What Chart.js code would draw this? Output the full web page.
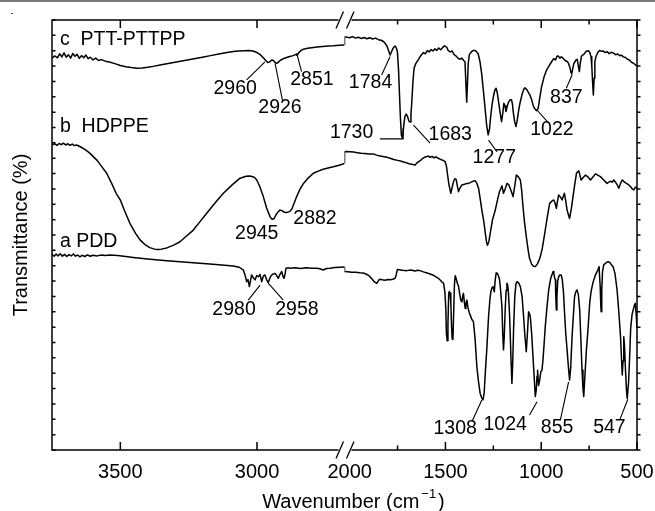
<!DOCTYPE html>
<html><head><meta charset="utf-8">
<script src="https://cdn.jsdelivr.net/npm/chart.js@4.4.1/dist/chart.umd.min.js"></script>
<style>html,body{margin:0;padding:0;background:#fff;}canvas{display:block;}</style>
</head><body>
<canvas id="c" width="655" height="511"></canvas>
<script>
// ---------- DATA: [wavenumber (cm-1), transmittance (offset, a.u.)] ----------
const pttLeft = [[3750,127.6],[3740,128.3],[3730,127.7],[3722,129.0],[3714,128.0],[3706,129.3],[3698,127.9],[3690,128.7],[3682,127.6],[3674,129.1],[3666,128.2],[3658,128.8],[3650,127.5],[3642,128.4],[3634,127.7],[3626,128.6],[3618,127.4],[3610,127.9],[3600,127.0],[3590,127.6],[3580,126.8],[3570,127.1],[3555,126.6],[3540,126.3],[3520,125.8],[3500,125.2],[3480,124.8],[3460,124.5],[3440,124.3],[3420,124.4],[3400,124.6],[3380,124.9],[3350,125.4],[3320,125.9],[3290,126.4],[3260,126.9],[3230,127.4],[3200,127.9],[3170,128.4],[3140,128.9],[3110,129.4],[3080,129.8],[3050,130.0],[3030,130.1],[3015,129.9],[3000,129.4],[2988,128.7],[2976,127.6],[2968,126.8],[2960,126.1],[2953,126.4],[2946,127.0],[2940,126.8],[2934,126.2],[2928,125.9],[2922,126.3],[2914,126.9],[2904,127.4],[2892,127.8],[2880,128.1],[2868,128.4],[2858,128.8],[2853,128.5],[2848,129.3],[2840,130.0],[2830,130.5],[2815,130.8],[2800,131.0],[2780,131.2],[2760,131.4],[2740,131.5],[2720,131.6],[2700,131.8],[2680,131.9]];
const pttRight = [[2027,131.9],[2027,134.5],[2020,134.5],[2000,134.2],[1985,134.6],[1970,134.1],[1955,134.4],[1940,134.0],[1925,134.3],[1910,133.9],[1895,134.2],[1880,133.8],[1865,134.1],[1850,133.6],[1835,133.4],[1824,133.0],[1815,132.4],[1806,131.6],[1798,130.2],[1789,128.6],[1782,129.6],[1775,130.6],[1768,131.3],[1762,131.5],[1756,130.8],[1751,129.7],[1745,124.0],[1740,116.0],[1735,108.0],[1730,102.5],[1724,101.5],[1718,105.5],[1712,108.5],[1705,109.4],[1698,108.6],[1690,107.0],[1685,106.8],[1680,109.5],[1676,113.0],[1670,119.5],[1664,124.3],[1655,125.8],[1642,127.0],[1630,128.3],[1615,129.4],[1605,129.0],[1595,130.0],[1585,129.6],[1575,130.4],[1565,129.9],[1555,130.6],[1545,130.1],[1535,130.9],[1525,130.3],[1515,131.0],[1505,131.6],[1494,131.2],[1485,130.0],[1475,129.6],[1465,129.9],[1455,128.7],[1445,128.3],[1435,127.6],[1425,127.2],[1415,127.6],[1405,126.8],[1398,126.4],[1393,119.0],[1389,113.2],[1385,119.5],[1381,125.9],[1375,128.8],[1365,129.6],[1355,130.1],[1346,130.1],[1338,129.7],[1329,129.0],[1320,126.5],[1311,122.6],[1302,117.0],[1294,111.8],[1285,105.8],[1277,102.6],[1270,104.5],[1264,108.5],[1257,112.3],[1250,115.0],[1242,117.2],[1236,117.8],[1230,116.5],[1224,114.0],[1215,110.0],[1207,106.9],[1201,109.5],[1195,112.9],[1189,112.0],[1184,110.2],[1178,111.8],[1172,113.1],[1163,114.0],[1155,114.0],[1150,112.5],[1146,110.0],[1139,107.0],[1132,105.3],[1125,107.5],[1118,110.5],[1111,112.9],[1100,115.8],[1090,117.6],[1085,117.9],[1075,117.3],[1065,116.2],[1059,115.6],[1050,114.0],[1040,111.8],[1031,110.9],[1024,110.5],[1016,111.2],[1008,114.5],[998,118.3],[985,121.5],[972,123.7],[960,125.0],[946,126.4],[935,127.4],[925,127.0],[918,128.2],[911,128.3],[903,127.6],[895,128.0],[885,127.5],[875,126.8],[865,126.5],[859,126.1],[850,124.5],[845,123.0],[841,122.4],[836,124.0],[830,125.8],[824,126.4],[818,127.0],[812,127.2],[806,125.0],[801,123.2],[796,126.0],[790,128.2],[784,128.6],[775,129.0],[765,129.8],[754,130.0],[746,129.4],[740,128.0],[736,125.0],[732,120.0],[728,115.6],[724,121.0],[720,126.5],[714,128.1],[705,129.4],[695,130.1],[686,129.8],[676,129.9],[665,129.4],[655,129.7],[645,129.0],[635,129.5],[623,129.2],[612,128.7],[600,128.9],[590,128.4],[580,128.5],[571,128.0],[560,127.8],[550,127.2],[540,127.0],[530,126.3],[520,126.0],[510,125.5],[500,125.0]];

const hdpLeft = [[3750,99.3],[3740,99.7],[3732,99.2],[3724,99.8],[3716,99.4],[3708,99.9],[3700,99.3],[3692,99.7],[3684,99.2],[3676,99.6],[3668,99.1],[3660,99.3],[3650,98.9],[3640,98.4],[3630,97.9],[3620,97.2],[3610,96.5],[3600,95.6],[3585,94.3],[3570,92.5],[3550,90.1],[3530,86.5],[3515,83.5],[3500,81.4],[3485,78.0],[3465,73.8],[3445,70.6],[3428,68.4],[3410,66.9],[3392,65.9],[3375,65.4],[3367,65.3],[3350,65.4],[3330,65.8],[3305,66.7],[3282,67.8],[3260,69.5],[3233,71.6],[3210,74.2],[3184,77.1],[3150,80.8],[3123,83.6],[3090,86.4],[3062,88.5],[3040,89.1],[3026,89.2],[3010,88.8],[3001,87.9],[2990,85.8],[2977,82.5],[2965,78.8],[2952,75.9],[2945,75.1],[2938,75.3],[2930,76.7],[2922,77.6],[2916,78.1],[2910,78.0],[2900,77.4],[2891,77.3],[2882,77.6],[2873,78.4],[2864,80.4],[2855,82.5],[2843,84.9],[2830,86.8],[2812,88.6],[2794,90.1],[2776,90.8],[2758,91.4],[2740,91.8],[2721,92.2],[2700,92.7],[2680,93.3]];
const hdpRight = [[2027,93.3],[2027,97.1],[2015,97.2],[1998,97.1],[1980,97.0],[1960,96.8],[1940,96.6],[1920,96.5],[1900,96.4],[1877,96.4],[1860,96.0],[1840,95.7],[1820,95.5],[1800,95.2],[1789,95.0],[1770,94.6],[1750,94.3],[1730,94.0],[1715,93.7],[1702,93.5],[1690,93.2],[1675,93.0],[1665,92.9],[1658,92.8],[1650,93.4],[1640,93.9],[1631,94.2],[1620,94.9],[1610,95.3],[1600,95.5],[1589,95.7],[1580,95.3],[1570,95.6],[1560,95.1],[1552,95.4],[1545,95.3],[1535,94.9],[1525,94.6],[1512,94.3],[1502,93.9],[1495,92.5],[1490,90.1],[1482,86.5],[1472,83.6],[1465,85.5],[1458,87.4],[1451,88.3],[1444,88.1],[1438,86.0],[1432,84.1],[1425,85.2],[1414,86.3],[1400,86.5],[1390,86.8],[1380,86.8],[1365,87.2],[1352,87.6],[1345,87.7],[1336,86.8],[1327,85.2],[1318,81.5],[1310,78.1],[1300,74.5],[1292,70.6],[1285,67.5],[1280,66.7],[1273,68.0],[1266,70.6],[1255,74.8],[1240,78.1],[1228,81.5],[1218,84.1],[1205,86.0],[1197,83.6],[1188,85.0],[1179,86.8],[1170,86.4],[1162,85.2],[1155,84.0],[1147,82.5],[1138,86.0],[1130,89.5],[1120,89.0],[1109,87.9],[1102,84.5],[1095,79.2],[1087,74.0],[1078,69.5],[1068,65.0],[1061,62.4],[1050,60.5],[1040,59.8],[1031,59.7],[1020,60.6],[1010,62.0],[1005,62.9],[995,65.5],[987,68.5],[979,71.6],[968,76.0],[956,80.3],[945,81.0],[935,81.4],[928,80.5],[921,78.7],[915,81.0],[909,83.0],[900,82.4],[891,81.4],[885,82.5],[879,83.6],[872,81.0],[865,78.1],[858,76.6],[852,75.4],[843,78.5],[834,82.5],[825,86.5],[816,90.1],[810,90.6],[804,90.9],[798,89.5],[792,87.9],[780,88.8],[769,89.5],[756,88.9],[743,87.9],[730,88.9],[717,89.9],[705,89.5],[691,89.0],[675,88.0],[656,86.8],[640,87.5],[630,87.2],[621,87.9],[610,87.0],[603,86.3],[595,85.2],[586,86.8],[577,87.9],[565,87.2],[555,86.8],[543,86.3],[533,85.7],[525,85.0],[517,84.7],[508,85.6],[499,85.2]];

const pddLeft = [[3750,63.6],[3742,63.1],[3735,63.8],[3728,63.2],[3720,63.9],[3712,63.1],[3704,63.7],[3696,63.0],[3688,63.6],[3680,63.2],[3672,63.8],[3664,63.1],[3656,63.5],[3648,62.9],[3640,63.4],[3630,63.0],[3620,63.5],[3610,63.1],[3600,63.4],[3585,63.2],[3570,63.5],[3555,63.3],[3540,63.5],[3525,63.4],[3510,63.3],[3480,63.0],[3453,62.7],[3400,62.2],[3330,61.6],[3270,61.2],[3209,60.8],[3150,60.4],[3087,59.9],[3065,59.5],[3050,58.6],[3044,57.0],[3038,54.8],[3033,55.5],[3028,53.2],[3024,55.0],[3020,57.0],[3013,56.0],[3007,55.4],[3001,56.8],[2995,56.4],[2989,57.2],[2983,54.8],[2977,56.6],[2971,57.0],[2965,55.5],[2959,54.5],[2952,56.2],[2946,57.0],[2940,57.3],[2934,57.5],[2928,56.8],[2922,55.9],[2916,57.2],[2910,58.1],[2905,56.5],[2901,55.9],[2897,57.5],[2894,59.2],[2885,59.3],[2879,59.2],[2860,59.3],[2840,59.1],[2820,59.3],[2800,59.2],[2782,59.2],[2770,59.0],[2758,58.6],[2746,59.1],[2733,59.2],[2715,59.4],[2697,59.5],[2680,59.6]];
const pddRight = [[2027,59.6],[2027,58.1],[2010,58.0],[1990,57.9],[1970,57.9],[1946,57.7],[1930,57.6],[1915,57.3],[1900,56.8],[1894,56.4],[1885,55.8],[1875,55.0],[1865,54.5],[1859,54.3],[1852,54.9],[1846,55.5],[1842,55.6],[1830,55.4],[1815,55.3],[1800,55.5],[1789,55.4],[1775,55.6],[1763,55.9],[1757,57.0],[1751,58.8],[1740,58.7],[1725,58.5],[1702,58.4],[1680,58.6],[1660,58.3],[1645,58.5],[1632,58.4],[1615,58.0],[1600,57.7],[1580,57.3],[1560,56.8],[1545,56.2],[1537,55.9],[1525,55.2],[1517,54.6],[1510,54.3],[1503,51.5],[1498,46.0],[1495,38.0],[1491,35.6],[1487,41.0],[1483,51.0],[1480,51.6],[1476,51.1],[1472,48.0],[1468,40.0],[1465,36.2],[1461,36.0],[1457,45.0],[1453,54.0],[1449,56.7],[1444,55.8],[1438,54.3],[1432,53.4],[1426,51.0],[1420,48.8],[1414,48.2],[1410,50.0],[1406,51.0],[1401,48.0],[1397,46.1],[1393,47.8],[1388,48.8],[1383,46.5],[1376,44.8],[1371,44.0],[1362,42.5],[1354,41.8],[1345,36.0],[1336,27.1],[1327,22.0],[1319,18.5],[1311,17.0],[1304,16.3],[1298,18.5],[1292,25.0],[1284,33.0],[1275,43.4],[1268,49.0],[1263,51.5],[1257,52.8],[1252,53.2],[1248,52.4],[1245,51.5],[1240,55.5],[1235,57.7],[1228,57.4],[1222,56.5],[1218,55.6],[1212,52.0],[1205,46.5],[1201,38.0],[1197,32.6],[1193,37.0],[1188,46.0],[1183,52.0],[1179,54.3],[1175,53.6],[1171,51.0],[1166,45.0],[1162,38.0],[1157,28.0],[1153,21.7],[1149,28.0],[1144,40.0],[1138,50.0],[1132,54.0],[1127,54.8],[1118,54.4],[1109,53.2],[1100,50.0],[1092,43.4],[1085,37.0],[1078,32.0],[1072,38.0],[1066,45.0],[1062,44.5],[1057,43.4],[1050,38.0],[1043,30.4],[1037,24.0],[1031,17.4],[1026,19.5],[1022,24.0],[1019,26.0],[1014,21.0],[1008,22.8],[1002,25.5],[996,26.0],[990,30.0],[985,34.5],[979,40.1],[970,46.5],[961,52.1],[950,56.0],[943,57.2],[938,58.1],[934,57.5],[930,56.0],[926,55.4],[924,50.0],[921,45.6],[918,50.0],[914,55.0],[909,56.4],[903,57.0],[896,57.0],[890,55.5],[884,51.5],[879,45.6],[872,38.0],[865,32.6],[858,27.0],[852,22.8],[846,27.0],[839,36.9],[833,43.0],[826,49.9],[820,51.5],[813,52.1],[806,50.5],[799,45.6],[793,36.0],[787,26.0],[782,20.0],[778,17.4],[773,23.0],[764,32.6],[755,40.0],[747,47.8],[740,51.5],[730,54.5],[717,57.0],[705,58.5],[698,59.7],[695,59.7],[692,53.0],[689,47.0],[687,45.0],[684,52.0],[680,58.0],[674,60.2],[665,60.8],[656,61.2],[648,61.3],[640,60.9],[632,60.2],[625,59.7],[615,57.5],[604,52.1],[595,45.0],[586,36.9],[581,30.0],[577,24.4],[573,29.0],[569,36.9],[565,33.5],[560,26.0],[555,19.5],[551,16.8],[548,16.8],[544,22.0],[538,31.0],[533,39.6],[526,44.0],[520,45.6],[514,47.0],[509,47.8],[504,44.0],[500,39.6]];

// axis ranges and ticks
const leftRange = [2680, 3750];
const rightRange = [500, 2027];
const leftTicks = [3500, 3000];
const rightTicks = [2000, 1500, 1000, 500];
const rightMinorTicks = [1750, 1250, 750];
const yRange = [0, 140];

// annotation texts: [text, axis, wavenumber, value]
const seriesLabels = [['c  PTT-PTTPP', 'xL', 3721, 133.7], ['b  HDPPE', 'xL', 3721, 105.2], ['a PDD', 'xL', 3721, 67.7]];
const peakLabels = [
  ['2960','xL',3080,117.5], ['2926','xL',2916,111.4], ['2851','xL',2799,120.5],
  ['1784','xR',1891,119.7], ['837','xR',869,114.8], ['1730','xR',1990,103.2],
  ['1683','xR',1475,102.7], ['1277','xR',1245,95.2], ['1022','xR',944,104.2],
  ['2945','xL',3001,70.3], ['2882','xL',2788,75.2],
  ['2980','xL',3084,45.6], ['2958','xL',2854,45.6],
  ['1308','xR',1449,6.8], ['1024','xR',1188,8.1], ['855','xR',917,7.2], ['547','xR',644,7.2]
];
const leaders = [
  ['xL', [[2971,126.4],[3038,120.5]]], ['xL', [[2934,125.9],[2906,113.4]]], ['xL', [[2855,129.2],[2837,123.2]]],
  ['xR', [[1789,128.1],[1833,122.1]]], ['xR', [[839,122.1],[869,117.8]]],
  ['xR', [[1842,101.3],[1721,101.3],[1721,104.8]]], ['xR', [[1667,105.8],[1580,99.9]]],
  ['xR', [[1275,100.9],[1231,97.1]]], ['xR', [[1022,110.7],[961,106.4]]],
  ['xL', [[2989,53.7],[3032,48.8]]], ['xL', [[2959,54.3],[2904,48.8]]],
  ['xR', [[1310,16.3],[1362,9.2]]], ['xR', [[1022,15.7],[1061,11.4]]],
  ['xR', [[857,22.2],[900,9.8]]], ['xR', [[548,16.5],[590,9.8]]]
];

const FONT = '"Liberation Sans", Arial, Helvetica, sans-serif';
Chart.defaults.font.family = FONT;
Chart.defaults.color = '#000';

const toPts = arr => arr.map(p => ({x: p[0], y: p[1]}));
const mk = (arr, ax) => ({data: toPts(arr), xAxisID: ax, yAxisID: 'y', borderColor: '#000', borderWidth: 1.5,
  pointRadius: 0, fill: false, tension: 0, borderJoinStyle: 'round'});

const overlay = {
  id: 'overlay',
  afterDraw(chart) {
    const ctx = chart.ctx, a = chart.chartArea, S = chart.scales, ys = S.y;
    const X = (ax, w) => S[ax].getPixelForValue(w);
    const Y = v => ys.getPixelForValue(v);
    ctx.save();
    // top gray page rule
    ctx.fillStyle = '#7a7a7a'; ctx.fillRect(0, 0, chart.width, 2);
    ctx.fillStyle = '#555'; ctx.fillRect(11, 13, 2, 1);
    // frame
    ctx.strokeStyle = '#000'; ctx.lineWidth = 1.5; ctx.lineCap = 'butt';
    ctx.strokeRect(a.left, a.top, a.right - a.left, a.bottom - a.top);
    // x ticks (inward, bottom and top)
    ctx.beginPath();
    const tk = (x, len) => { ctx.moveTo(x, a.bottom); ctx.lineTo(x, a.bottom - len); ctx.moveTo(x, a.top); ctx.lineTo(x, a.top + len); };
    leftTicks.forEach(w => tk(X('xL', w), 8));
    rightTicks.filter(w => w !== 2000).forEach(w => tk(X('xR', w), 8));
    rightMinorTicks.forEach(w => tk(X('xR', w), 4.5));
    // y ticks
    for (let v = yRange[0]; v <= yRange[1]; v += 5) {
      const yy = Y(v);
      ctx.moveTo(a.left, yy); ctx.lineTo(a.left + 3.5, yy);
      ctx.moveTo(a.right, yy); ctx.lineTo(a.right + 3.5, yy);
    }
    ctx.stroke();
    // axis breaks
    const xb = S.xR.left;
    [a.top, a.bottom].forEach(yb => {
      ctx.fillStyle = '#fff';
      ctx.fillRect(xb - 6, yb - 1.5, 13, 3);
      ctx.beginPath();
      ctx.moveTo(xb - 8.5, yb + 8.5); ctx.lineTo(xb - 1, yb - 8.5);
      ctx.moveTo(xb + 2, yb + 8.5); ctx.lineTo(xb + 9.5, yb - 8.5);
      ctx.lineWidth = 1.3; ctx.stroke();
    });
    // leader lines
    ctx.lineWidth = 1.1;
    leaders.forEach(([ax, pts]) => {
      ctx.beginPath();
      pts.forEach((p, i) => { const px = X(ax, p[0]), py = Y(p[1]); i ? ctx.lineTo(px, py) : ctx.moveTo(px, py); });
      ctx.stroke();
    });
    // texts
    ctx.fillStyle = '#000'; ctx.textBaseline = 'middle';
    ctx.font = '19.5px ' + FONT;
    ctx.textAlign = 'left';
    seriesLabels.forEach(([t, ax, w, v]) => ctx.fillText(t, X(ax, w), Y(v)));
    ctx.textAlign = 'center';
    peakLabels.forEach(([t, ax, w, v]) => ctx.fillText(t, X(ax, w), Y(v)));
    // x axis title with superscript
    const f1 = '20px ' + FONT, f2 = '13px ' + FONT;
    const s1 = 'Wavenumber (cm', s2 = '\u22121', s3 = ')';
    ctx.font = f1; const w1 = ctx.measureText(s1).width, w3 = ctx.measureText(s3).width;
    ctx.font = f2; const w2 = ctx.measureText(s2).width;
    const total = w1 + 2 + w2 + 2 + w3;
    let x0 = (a.left + a.right) / 2 + 9 - total / 2;
    const base = 508;
    ctx.textAlign = 'left'; ctx.textBaseline = 'alphabetic';
    ctx.font = f1; ctx.fillText(s1, x0, base);
    ctx.font = f2; ctx.fillText(s2, x0 + w1 + 2, base - 10);
    ctx.font = f1; ctx.fillText(s3, x0 + w1 + 2 + w2 + 2, base);
    ctx.restore();
  }
};

const xAxis = (range, ticks) => ({
  type: 'linear', position: 'bottom', reverse: true, stack: 'wn', stackWeight: 1,
  min: range[0], max: range[1], offset: false,
  grid: {display: false, drawTicks: false}, border: {display: false},
  ticks: {font: {size: 20, family: FONT}, color: '#000', padding: 10, autoSkip: false, maxRotation: 0,
    callback: v => String(v)},
  afterBuildTicks: s => { s.ticks = ticks.map(v => ({value: v})); },
  afterFit: s => { s.height = 61; s.paddingLeft = 0; s.paddingRight = 0; s.paddingTop = 0; s.paddingBottom = 0; }
});

new Chart(document.getElementById('c'), {
  type: 'line',
  data: {datasets: [mk(pttLeft, 'xL'), mk(pttRight, 'xR'), mk(hdpLeft, 'xL'), mk(hdpRight, 'xR'), mk(pddLeft, 'xL'), mk(pddRight, 'xR')]},
  options: {
    responsive: false, animation: false, devicePixelRatio: 1,
    layout: {padding: {top: 20, right: 18, left: 0, bottom: 0}},
    plugins: {legend: {display: false}, tooltip: {enabled: false}},
    scales: {
      xL: xAxis(leftRange, leftTicks),
      xR: xAxis(rightRange, rightTicks),
      y: {type: 'linear', position: 'left', min: yRange[0], max: yRange[1],
        grid: {display: false, drawTicks: false}, border: {display: false},
        ticks: {display: false},
        title: {display: true, text: 'Transmittance (%)', font: {size: 20, family: FONT}, color: '#000', padding: {top: 9.5, bottom: 0}},
        afterFit: s => { s.width = 52; s.paddingTop = 0; s.paddingBottom = 0; s.paddingLeft = 0; s.paddingRight = 0; }
      }
    }
  },
  plugins: [overlay]
});
</script>
</body></html>
